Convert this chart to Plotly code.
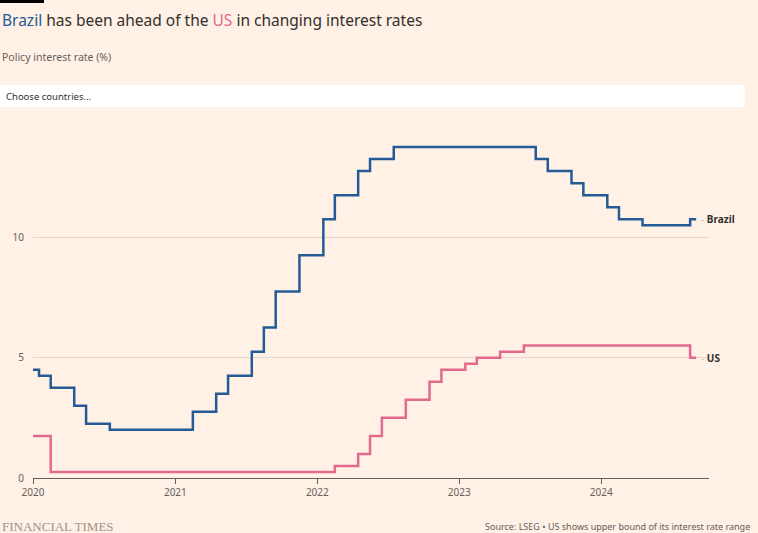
import plotly.graph_objects as go
import pandas as pd

# Monthly policy rates (month-end), Jan 2020 - Sep 2024
months = pd.date_range("2020-01-01", "2024-09-01", freq="MS")

brazil = [
    # 2020
    4.5, 4.25, 3.75, 3.75, 3.0, 2.25, 2.25, 2.0, 2.0, 2.0, 2.0, 2.0,
    # 2021
    2.0, 2.0, 2.75, 2.75, 3.5, 4.25, 4.25, 5.25, 6.25, 7.75, 7.75, 9.25,
    # 2022
    9.25, 10.75, 11.75, 11.75, 12.75, 13.25, 13.25, 13.75, 13.75, 13.75, 13.75, 13.75,
    # 2023
    13.75, 13.75, 13.75, 13.75, 13.75, 13.75, 13.75, 13.25, 12.75, 12.75, 12.25, 11.75,
    # 2024
    11.75, 11.25, 10.75, 10.75, 10.5, 10.5, 10.5, 10.5, 10.75,
]

us = [
    # 2020
    1.75, 1.75, 0.25, 0.25, 0.25, 0.25, 0.25, 0.25, 0.25, 0.25, 0.25, 0.25,
    # 2021
    0.25, 0.25, 0.25, 0.25, 0.25, 0.25, 0.25, 0.25, 0.25, 0.25, 0.25, 0.25,
    # 2022
    0.25, 0.25, 0.5, 0.5, 1.0, 1.75, 2.5, 2.5, 3.25, 3.25, 4.0, 4.5,
    # 2023
    4.5, 4.75, 5.0, 5.0, 5.25, 5.25, 5.5, 5.5, 5.5, 5.5, 5.5, 5.5,
    # 2024
    5.5, 5.5, 5.5, 5.5, 5.5, 5.5, 5.5, 5.5, 5.0,
]

year_ticks = ["2020-01-01", "2021-01-01", "2022-01-01", "2023-01-01", "2024-01-01"]
year_labels = ["2020", "2021", "2022", "2023", "2024"]
y_ticks = [0, 5, 10]

BLUE = "#245b96"
PINK = "#e3698f"
BG = "#fff1e5"
TEXT = "#33302e"
MUTED = "#66605c"

W, H = 758, 533
L, R, T, B = 33, 49, 141, 55
PW, PH = W - L - R, H - T - B


def px(x):
    return (x - L) / PW


def py(y):
    return (H - B - y) / PH


fig = go.Figure()
fig.add_trace(go.Scatter(x=months, y=brazil, mode="lines", line=dict(color=BLUE, width=2.5, shape="hvh"),
                         name="Brazil", hoverinfo="x+y"))
fig.add_trace(go.Scatter(x=months, y=us, mode="lines", line=dict(color=PINK, width=2.5, shape="hvh"),
                         name="US", hoverinfo="x+y"))

FONT = "Noto Sans"

annotations = [
    dict(x=px(0), y=py(20), xref="paper", yref="paper", xanchor="left", yanchor="middle", showarrow=False,
         text=f"<span style='color:{BLUE}'>Brazil</span> has been ahead of the <span style='color:{PINK}'>US</span> in changing interest rates",
         font=dict(family=FONT, size=15.5, color=TEXT)),
    dict(x=px(0), y=py(57), xref="paper", yref="paper", xanchor="left", yanchor="middle", showarrow=False,
         text="Policy interest rate (%)", font=dict(family=FONT, size=10.5, color=MUTED)),
    dict(x=px(4), y=py(97), xref="paper", yref="paper", xanchor="left", yanchor="middle", showarrow=False,
         text="Choose countries...", font=dict(family=FONT, size=9.5, color=TEXT)),
    dict(x=px(0), y=py(526), xref="paper", yref="paper", xanchor="left", yanchor="middle", showarrow=False,
         text="FINANCIAL TIMES", font=dict(family="Liberation Serif", size=13, color="#9b948e")),
    dict(x=px(752), y=py(526), xref="paper", yref="paper", xanchor="right", yanchor="middle", showarrow=False,
         text="Source: LSEG \u2022 US shows upper bound of its interest rate range",
         font=dict(family=FONT, size=9, color=MUTED)),
    dict(x=months[-1], y=brazil[-1], xref="x", yref="y", xanchor="left", yanchor="middle", showarrow=False,
         xshift=3, text="<span style='color:#c8bdb4'>-</span> <b>Brazil</b>",
         font=dict(family=FONT, size=10, color=TEXT)),
    dict(x=months[-1], y=us[-1], xref="x", yref="y", xanchor="left", yanchor="middle", showarrow=False,
         xshift=3, text="<span style='color:#c8bdb4'>-</span> <b>US</b>",
         font=dict(family=FONT, size=10, color=TEXT)),
]

shapes = [
    dict(type="rect", xref="paper", yref="paper", x0=px(0), x1=px(44), y0=py(0), y1=py(3),
         fillcolor="#000000", line=dict(width=0), layer="above"),
    dict(type="rect", xref="paper", yref="paper", x0=px(0), x1=px(745), y0=py(85), y1=py(107),
         fillcolor="#ffffff", line=dict(width=0), layer="below"),
]

fig.update_layout(
    width=W, height=H,
    margin=dict(l=L, r=R, t=T, b=B, pad=0),
    paper_bgcolor=BG, plot_bgcolor=BG,
    showlegend=False,
    annotations=annotations,
    shapes=shapes,
    font=dict(family=FONT, color=MUTED),
    xaxis=dict(
        type="date",
        range=["2020-01-01", "2024-10-04"],
        tickvals=year_ticks, ticktext=year_labels,
        ticks="outside", ticklen=5, tickcolor=MUTED, tickwidth=1,
        showline=True, linecolor=MUTED, linewidth=1,
        showgrid=False, zeroline=False,
        tickfont=dict(family=FONT, size=10, color=MUTED),
    ),
    yaxis=dict(
        range=[0, 14],
        tickvals=y_ticks, ticktext=[str(v) for v in y_ticks],
        showgrid=True, gridcolor="#e3d6cb", gridwidth=1,
        zeroline=False, showline=False, ticks="",
        ticklabelstandoff=8,
        tickfont=dict(family=FONT, size=10, color=MUTED),
    ),
)

fig.write_html("out.html", config={"displayModeBar": False},
               post_script="document.body.style.margin='0';document.body.style.background='%s';" % BG)
